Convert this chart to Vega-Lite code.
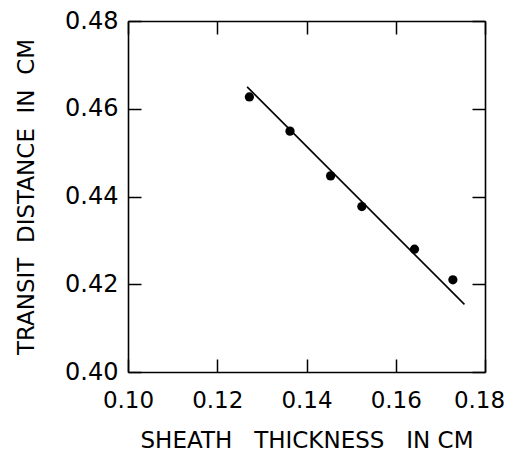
{
  "$schema": "https://vega.github.io/schema/vega-lite/v6.json",
  "width": 357,
  "height": 351,
  "autosize": "none",
  "padding": {"left": 128, "top": 21, "right": 21, "bottom": 81},
  "background": "white",
  "config": {
    "view": {"stroke": null},
    "axis": {
      "domainColor": "black",
      "domainWidth": 1.6,
      "tickColor": "black",
      "tickWidth": 1.5,
      "tickSize": -13,
      "grid": false,
      "labelFont": "DejaVu Sans",
      "labelFontSize": 24,
      "labelColor": "black",
      "titleFont": "DejaVu Sans",
      "titleFontSize": 23,
      "titleFontWeight": "normal",
      "titleColor": "black"
    }
  },
  "datasets": {
    "pts": [
      {"thickness": 0.1272, "distance": 0.4627},
      {"thickness": 0.1363, "distance": 0.4549},
      {"thickness": 0.1454, "distance": 0.4447},
      {"thickness": 0.1524, "distance": 0.4377},
      {"thickness": 0.1642, "distance": 0.4280},
      {"thickness": 0.1728, "distance": 0.4210}
    ],
    "fit": [
      {"thickness": 0.1267, "distance": 0.4650},
      {"thickness": 0.1754, "distance": 0.4154}
    ]
  },
  "layer": [
    {
      "data": {"name": "pts"},
      "mark": {"type": "point", "filled": true, "color": "black", "size": 85, "opacity": 1},
      "encoding": {
        "x": {
          "field": "thickness", "type": "quantitative",
          "scale": {"domain": [0.10, 0.18], "nice": false, "zero": false},
          "axis": {"orient": "bottom", "values": [0.10, 0.12, 0.14, 0.16, 0.18], "format": ".2f", "labelPadding": 30, "labelFontSize": 23, "labelOffset": {"expr": "datum.value > 0.179 ? -6 : 0"}, "title": "SHEATH\u00a0\u00a0\u00a0THICKNESS\u00a0\u00a0\u00a0IN\u00a0CM", "titlePadding": 17, "labelFlush": false}
        },
        "y": {
          "field": "distance", "type": "quantitative",
          "scale": {"domain": [0.40, 0.48], "nice": false, "zero": false},
          "axis": {"orient": "left", "values": [0.40, 0.42, 0.44, 0.46, 0.48], "format": ".2f", "labelPadding": 23, "title": "TRANSIT\u00a0\u00a0DISTANCE\u00a0\u00a0IN\u00a0\u00a0CM", "titlePadding": 26, "labelFlush": false}
        }
      }
    },
    {
      "data": {"name": "fit"},
      "mark": {"type": "line", "color": "black", "strokeWidth": 1.6},
      "encoding": {
        "x": {
          "field": "thickness", "type": "quantitative",
          "scale": {"domain": [0.10, 0.18], "nice": false, "zero": false},
          "axis": {"orient": "top", "values": [0.10, 0.12, 0.14, 0.16, 0.18], "labels": false, "title": null}
        },
        "y": {
          "field": "distance", "type": "quantitative",
          "scale": {"domain": [0.40, 0.48], "nice": false, "zero": false},
          "axis": {"orient": "right", "values": [0.40, 0.42, 0.44, 0.46, 0.48], "labels": false, "title": null}
        }
      }
    }
  ],
  "resolve": {"axis": {"x": "independent", "y": "independent"}}
}
